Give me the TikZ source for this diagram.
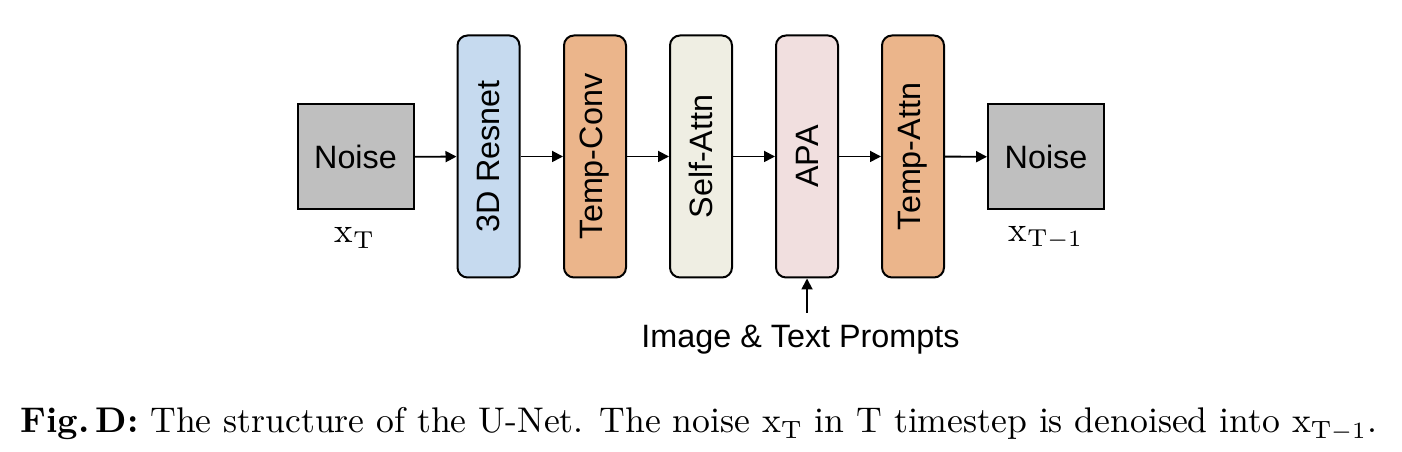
\documentclass[tikz,border=0pt]{standalone}
\usepackage{fontspec}
\newfontfamily\boxfont{Liberation Sans}
\usetikzlibrary{arrows.meta}
\definecolor{noisegray}{HTML}{BFBFBF}
\definecolor{resblue}{HTML}{C6DAEF}
\definecolor{temporange}{HTML}{EBB58B}
\definecolor{selfbeige}{HTML}{EFEEE3}
\definecolor{apapink}{HTML}{F1DFDF}
\begin{document}
\begin{tikzpicture}[x=0.3pt,y=-0.3pt,
  blockbox/.style={draw=black,line width=0.6pt,rounded corners=3pt,inner sep=0pt,
    minimum width=18.6pt,minimum height=72.6pt,font=\boxfont\fontsize{9.7}{11}\selectfont},
  noisebox/.style={draw=black,line width=0.6pt,fill=noisegray,inner sep=0pt,
    minimum width=34.8pt,minimum height=31.5pt,font=\boxfont\fontsize{9.7}{11}\selectfont},
  flow/.style={-{Triangle[length=3.3pt,width=3.3pt]},line width=0.55pt},
  sublabel/.style={inner sep=0pt,font=\fontsize{10.5}{12}\selectfont}]
\useasboundingbox (0,0) rectangle (1402,452);
\node[noisebox] (n1) at (355.5,157) {Noise};
\node[blockbox,fill=resblue] (res) at (488.5,156.5) {\rotatebox{90}{3D Resnet}};
\node[blockbox,fill=temporange] (tconv) at (595,156.5) {\rotatebox{90}{Temp-Conv}};
\node[blockbox,fill=selfbeige] (sattn) at (701,156.5) {\rotatebox{90}{Self-Attn}};
\node[blockbox,fill=apapink] (apa) at (807,156.5) {\rotatebox{90}{APA}};
\node[blockbox,fill=temporange] (tattn) at (913,156.5) {\rotatebox{90}{Temp-Attn}};
\node[noisebox] (n2) at (1046,157) {Noise};
\node[sublabel] (xt) at (355,238) {$\mathrm{x}_{\mathrm{T}}$};
\node[sublabel] (xt1) at (1046,238) {$\mathrm{x}_{\mathrm{T}-1}$};
\node[inner sep=0pt,font=\boxfont\fontsize{9.7}{11}\selectfont] (prompt) at (800.5,340) {Image \& Text Prompts};
\coordinate (pstart) at (807,313);
\draw[flow] (n1) -- (res);
\draw[flow] (res) -- (tconv);
\draw[flow] (tconv) -- (sattn);
\draw[flow] (sattn) -- (apa);
\draw[flow] (apa) -- (tattn);
\draw[flow] (tattn) -- (n2);
\draw[flow] (pstart) -- (apa.south);
\node[anchor=base west,inner sep=0pt,font=\fontsize{10.7}{12.8}\selectfont] (cap) at (20,433)
  {\textbf{Fig.\,D:} The structure of the U-Net. The noise $\mathrm{x}_{\mathrm{T}}$ in T timestep is denoised into $\mathrm{x}_{\mathrm{T}-1}$.};
\end{tikzpicture}
\end{document}
